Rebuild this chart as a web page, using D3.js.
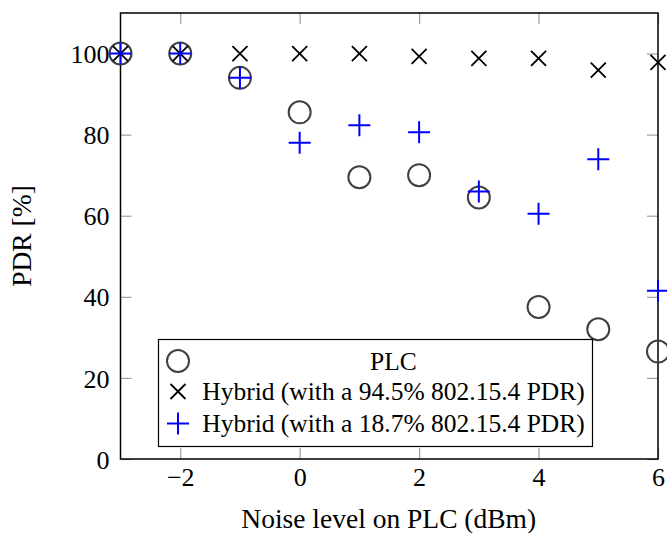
<!DOCTYPE html>
<meta charset="utf-8">
<style>
body { margin: 0; background: #fff; }
svg text { font-family: "Liberation Serif", "DejaVu Serif", serif; fill: #000; }
.tick text { font-size: 26px; font-family: "Liberation Serif", serif; }
.tick line { stroke: #a0a0a0; stroke-width: 1.2px; }
.frame { fill: none; stroke: #000; stroke-width: 1.5px; }
.label { font-size: 27.5px; }
.legend text { font-size: 25.5px; }
</style>
<body>
<script src="https://d3js.org/d3.v7.min.js"></script>
<script>

// noise level (dBm) and PDR (%) per series
var noise = [-3, -2, -1, 0, 1, 2, 3, 4, 5, 6];
var plc = [100, 100, 94, 85.5, 69.5, 70, 64.5, 37.5, 32, 26.5];
var hybrid945 = [100, 100, 100, 100, 100, 99.3, 98.8, 98.8, 95.9, 97.8];
var hybrid187 = [100, 100, 94, 78, 82.3, 80.6, 66, 60.5, 73.9, 41.5];
var xTicks = [-2, 0, 2, 4, 6];
var yTicks = [0, 20, 40, 60, 80, 100];
var names = ["PLC", "Hybrid (with a 94.5% 802.15.4 PDR)", "Hybrid (with a 18.7% 802.15.4 PDR)"];

var W = 667, H = 533;
var margin = {top: 13, right: 9, bottom: 74, left: 120.5};
var width = W - margin.left - margin.right,
    height = H - margin.top - margin.bottom;

var x = d3.scaleLinear().domain([-3, 6]).range([0, width]);
var y = d3.scaleLinear().domain([0, 110]).range([height, 0]);

var svg = d3.select("body").append("svg")
    .attr("width", W)
    .attr("height", H);

var g = svg.append("g")
    .attr("transform", "translate(" + margin.left + "," + margin.top + ")");

var fmt = function(d) { return d < 0 ? "\u2212" + Math.abs(d) : d; };
var tl = 11;

// bottom + top ticks (inside)
g.append("g")
    .attr("transform", "translate(0," + height + ")")
    .call(d3.axisBottom(x).tickValues(xTicks).tickFormat(fmt).tickSizeInner(-tl).tickSizeOuter(0).tickPadding(9))
    .call(function(a) { a.select(".domain").remove(); a.attr("font-family", null); });
g.append("g")
    .call(d3.axisTop(x).tickValues(xTicks).tickFormat("").tickSizeInner(-tl).tickSizeOuter(0))
    .call(function(a) { a.select(".domain").remove(); });

// left + right ticks
g.append("g")
    .call(d3.axisLeft(y).tickValues(yTicks).tickSizeInner(-tl).tickSizeOuter(0).tickPadding(11))
    .call(function(a) { a.select(".domain").remove(); a.attr("font-family", null); a.selectAll("text").attr("dy", "0.35em"); });
g.append("g")
    .attr("transform", "translate(" + width + ",0)")
    .call(d3.axisRight(y).tickValues(yTicks).tickFormat("").tickSizeInner(-tl).tickSizeOuter(0))
    .call(function(a) { a.select(".domain").remove(); });

g.append("rect").attr("class", "frame")
    .attr("width", width).attr("height", height);

// markers
function circle(sel) {
  sel.append("circle").attr("r", 11)
    .attr("fill", "none").attr("stroke", "#404040").attr("stroke-width", 2);
}
function cross(sel) {
  sel.append("path").attr("d", "M-7.5,-7.5L7.5,7.5M-7.5,7.5L7.5,-7.5")
    .attr("stroke", "#000").attr("stroke-width", 1.8).attr("fill", "none");
}
function plus(sel) {
  sel.append("path").attr("d", "M-11,0H11M0,-11V11")
    .attr("stroke", "#0000ff").attr("stroke-width", 2).attr("fill", "none");
}

var series = [[plc, circle], [hybrid945, cross], [hybrid187, plus]];
series.forEach(function(s) {
  g.append("g").selectAll("g")
      .data(s[0])
    .enter().append("g")
      .attr("transform", function(d, i) { return "translate(" + x(noise[i]) + "," + y(d) + ")"; })
      .call(s[1]);
});

// legend
var lx = 158.5 - margin.left, ly = 339.5 - margin.top, lw = 434, lh = 107;
var legend = g.append("g").attr("class", "legend");
legend.append("rect")
    .attr("x", lx).attr("y", ly).attr("width", lw).attr("height", lh)
    .attr("fill", "#fff").attr("stroke", "#000").attr("stroke-width", 1.2);
var rowY = [21.5, 52, 84];
var textMid = 235;
names.forEach(function(n, i) {
  var row = legend.append("g").attr("transform", "translate(" + lx + "," + (ly + rowY[i]) + ")");
  row.append("g").attr("transform", "translate(19.5,0)").call(series[i][1]);
  row.append("text")
    .attr("x", textMid)
    .attr("dy", "0.35em")
    .attr("text-anchor", "middle")
    .text(n);
});

// axis labels
svg.append("text").attr("class", "label")
    .attr("x", margin.left + width / 2 - 0.5)
    .attr("y", 528)
    .attr("text-anchor", "middle")
    .text("Noise level on PLC (dBm)");

svg.append("text").attr("class", "label")
    .attr("transform", "translate(31," + (margin.top + height / 2) + ") rotate(-90)")
    .attr("text-anchor", "middle")
    .text("PDR [%]");

</script>
